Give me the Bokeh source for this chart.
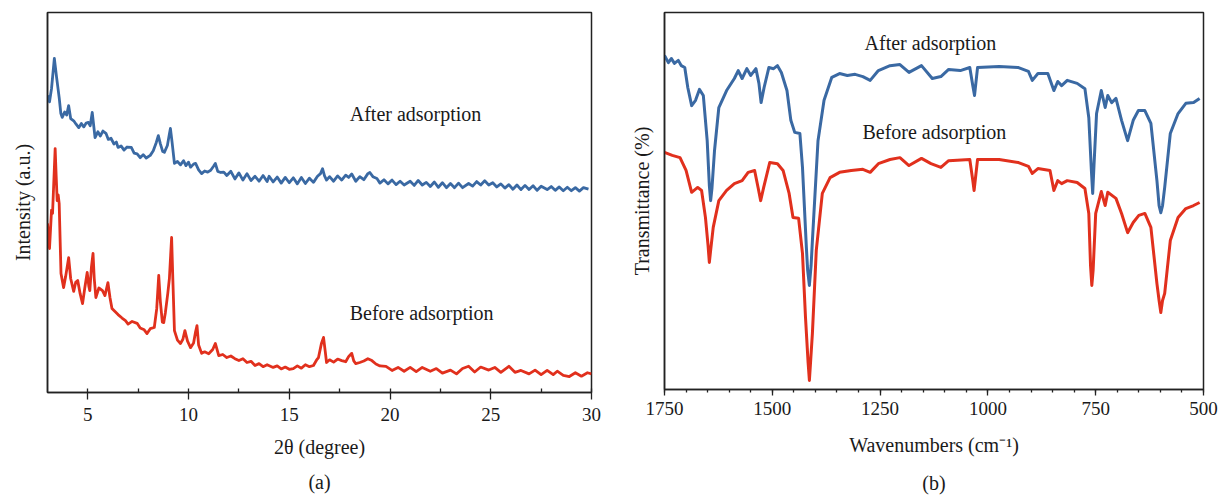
from bokeh.plotting import figure
from bokeh.layouts import row
from bokeh.models import Range1d, SingleIntervalTicker, FixedTicker, Label, Title
from bokeh.embed import file_html
from bokeh.resources import INLINE

FONT = "Liberation Serif"
BLUE = "#3a69a3"
RED = "#e1301d"
INK = "#1a1a1a"

# ---------------- (a) XRD data ----------------
xrd_after_2theta = [3.0, 3.1, 3.2, 3.34, 3.45, 3.58, 3.66, 3.73, 3.85, 3.95, 4.05, 4.15, 4.3, 4.42, 4.55, 4.68, 4.8, 4.92,
    5.03, 5.12, 5.22, 5.36, 5.5, 5.62, 5.75, 5.9, 6.02, 6.15, 6.3, 6.42, 6.5, 6.65, 6.8, 6.95, 7.16, 7.3, 7.45, 7.6, 7.75,
    7.9, 8.1, 8.25, 8.4, 8.5, 8.6, 8.72, 8.8, 8.95, 9.05, 9.1, 9.18, 9.3, 9.45, 9.6, 9.75, 9.87, 10.0, 10.1, 10.25, 10.35,
    10.5, 10.65, 10.8, 10.95, 11.1, 11.25, 11.33, 11.45, 11.6, 11.75, 11.9, 12.1, 12.3, 12.5, 12.7, 12.9, 13.1, 13.3, 13.5,
    13.7, 13.9, 14.0, 14.2, 14.4, 14.6, 14.8, 15.0, 15.2, 15.4, 15.6, 15.8, 16.0, 16.2, 16.4, 16.55, 16.65, 16.75, 16.85,
    17.0, 17.2, 17.4, 17.6, 17.8, 17.95, 18.1, 18.3, 18.5, 18.7, 18.9, 19.0, 19.15, 19.35, 19.5, 19.7, 19.9, 20.1, 20.3,
    20.5, 20.7, 21.0, 21.2, 21.4, 21.6, 21.8, 22.0, 22.2, 22.4, 22.6, 22.8, 23.0, 23.2, 23.4, 23.6, 23.9, 24.1, 24.3, 24.5,
    24.7, 24.9, 25.1, 25.3, 25.5, 25.7, 25.9, 26.1, 26.3, 26.5, 26.7, 26.9, 27.1, 27.3, 27.5, 27.8, 28.0, 28.2, 28.4, 28.6,
    28.8, 29.0, 29.2, 29.4, 29.6, 29.85]
xrd_after_int = [78.2, 76.5, 80.0, 87.9, 83.0, 77.6, 73.5, 72.4, 73.8, 73.0, 75.5, 72.1, 71.5, 70.6, 69.7, 70.8, 69.9, 70.9,
    71.1, 70.2, 73.7, 67.1, 68.6, 67.5, 68.8, 68.2, 66.6, 66.9, 65.4, 65.9, 64.5, 64.9, 63.8, 64.6, 64.5, 63.0, 62.8, 61.8, 62.6,
    61.7, 62.4, 63.6, 65.8, 67.6, 65.5, 63.4, 63.2, 65.0, 68.0, 69.5, 66.0, 60.3, 60.8, 59.9, 61.0, 59.7, 60.6, 59.3, 60.1, 60.3,
    58.6, 57.6, 58.3, 58.0, 58.5, 59.6, 60.3, 58.2, 57.9, 58.0, 57.1, 58.2, 56.2, 57.8, 55.9, 57.6, 55.8, 56.9, 55.6,
    57.1, 55.5, 56.9, 55.4, 56.7, 55.1, 56.6, 55.2, 56.5, 54.9, 56.6, 55.0, 56.4, 55.3, 56.9, 57.6, 58.9, 57.0, 55.9,
    56.8, 55.6, 57.0, 55.9, 57.2, 56.6, 57.5, 55.6, 56.8, 56.0, 57.6, 57.9, 56.8, 56.3, 55.1, 56.0, 54.9, 55.9, 54.7,
    55.6, 54.6, 55.6, 54.5, 55.8, 54.6, 55.3, 54.2, 55.4, 54.0, 55.2, 53.9, 55.0, 53.9, 55.1, 53.9, 55.0, 54.3, 55.5, 54.6,
    55.7, 54.6, 55.2, 54.1, 54.9, 53.8, 54.7, 53.5, 54.6, 53.4, 54.5, 53.4, 54.4, 53.2, 54.3, 53.4, 54.2, 53.2, 54.1, 53.1,
    54.0, 53.1, 53.9, 53.0, 53.9, 53.5]

xrd_before_2theta = [3.0, 3.1, 3.2, 3.25, 3.38, 3.43, 3.48, 3.53, 3.58, 3.67, 3.8, 3.9, 4.05, 4.15, 4.3, 4.4, 4.5, 4.62,
    4.74, 4.85, 4.97, 5.05, 5.1, 5.18, 5.26, 5.32, 5.4, 5.55, 5.73, 5.85, 6.0, 6.1, 6.2, 6.35, 6.5, 6.7, 6.87, 7.0, 7.2,
    7.45, 7.6, 7.8, 7.94, 8.1, 8.3, 8.42, 8.52, 8.6, 8.7, 8.77, 8.85, 8.97, 9.05, 9.16, 9.22, 9.3, 9.45, 9.6, 9.72, 9.82,
    9.95, 10.1, 10.25, 10.35, 10.42, 10.5, 10.65, 10.8, 11.0, 11.2, 11.33, 11.5, 11.7, 11.9, 12.1, 12.3, 12.5, 12.7, 12.9,
    13.1, 13.3, 13.5, 13.7, 13.9, 14.2, 14.4, 14.6, 14.8, 15.0, 15.2, 15.4, 15.6, 15.8, 16.0, 16.2, 16.35, 16.45, 16.6,
    16.7, 16.78, 16.85, 17.0, 17.2, 17.4, 17.6, 17.8, 17.95, 18.1, 18.2, 18.3, 18.5, 18.7, 18.9, 19.1, 19.3, 19.5, 19.8,
    20.1, 20.4, 20.7, 21.0, 21.3, 21.6, 22.0, 22.3, 22.6, 23.0, 23.3, 23.6, 23.9, 24.2, 24.5, 24.9, 25.2, 25.5, 25.9,
    26.2, 26.5, 26.9, 27.2, 27.5, 27.8, 28.1, 28.3, 28.6, 28.9, 29.2, 29.5, 29.8, 30.0]
xrd_before_int = [44.5, 37.9, 48.0, 47.1, 64.2, 57.0, 50.5, 52.0, 49.7, 31.3, 27.6, 30.5, 35.5, 30.0, 26.6, 29.0, 29.5, 26.0,
    23.4, 27.5, 31.6, 28.0, 26.8, 33.0, 36.6, 30.0, 25.0, 27.5, 26.8, 25.5, 28.9, 25.0, 22.1, 21.3, 20.5, 19.6, 18.9, 18.0, 18.7,
    18.2, 17.0, 16.5, 15.5, 16.8, 17.1, 22.0, 30.8, 24.0, 18.5, 18.4, 21.0, 26.1, 30.0, 40.8, 30.0, 16.3, 13.8, 12.9, 14.0, 16.3,
    13.5, 11.8, 13.0, 16.0, 17.6, 12.5, 10.3, 10.7, 10.2, 11.3, 12.9, 9.7, 10.0, 9.2, 9.6, 8.9, 8.4, 8.9, 7.9,
    8.2, 7.1, 7.6, 6.8, 7.3, 6.6, 7.0, 6.2, 6.7, 6.1, 6.3, 7.0, 6.4, 7.3, 6.8, 7.1, 8.5, 9.2, 13.0,
    14.5, 11.0, 7.9, 8.6, 8.0, 8.8, 8.4, 8.1, 9.5, 10.3, 8.3, 7.6, 7.9, 8.3, 8.9, 8.4, 7.5, 7.0, 6.9,
    5.8, 6.6, 5.6, 6.6, 5.5, 6.6, 5.6, 6.3, 5.1, 5.9, 4.9, 6.3, 6.9, 5.4, 6.7, 5.9, 6.6, 5.3, 6.9,
    5.3, 5.8, 4.9, 5.9, 4.7, 5.8, 4.7, 5.6, 4.5, 4.2, 5.2, 4.3, 5.2, 4.9]

# ---------------- (b) FTIR data ----------------
ftir_after_wn = [1750, 1741, 1734, 1727, 1718, 1711, 1703, 1696, 1687, 1678, 1669, 1660, 1651, 1646, 1643, 1640, 1634,
    1624, 1606, 1588, 1579, 1570, 1559, 1550, 1538, 1531, 1526, 1519, 1508, 1497, 1488, 1479, 1466, 1457, 1448, 1436,
    1430, 1421, 1418, 1414, 1410, 1407, 1394, 1380, 1362, 1344, 1326, 1308, 1290, 1273, 1254, 1227, 1204, 1183, 1154,
    1129, 1109, 1091, 1064, 1042, 1035, 1031, 1024, 974, 929, 906, 897, 884, 861, 847, 838, 829, 816, 793, 775, 766,
    760, 757, 754, 748, 737, 728, 722, 713, 703, 690, 676, 663, 651, 636, 622, 608, 603, 599, 595, 590, 577, 559, 541,
    523, 509]
ftir_after_t = [88.6, 86.7, 87.8, 86.5, 87.3, 85.9, 85.4, 80.1, 75.3, 76.7, 79.6, 78.0, 66.0, 54.1, 50.1, 53.3, 63.4,
    74.8, 79.3, 82.5, 84.6, 82.5, 85.1, 83.3, 85.1, 81.2, 76.1, 80.1, 85.4, 85.1, 85.9, 84.1, 79.3, 71.4, 68.2, 67.9,
    58.9, 37.7, 31.6, 27.6, 32.9, 39.5, 66.0, 76.7, 82.8, 83.8, 83.3, 83.6, 83.0, 82.0, 84.6, 85.9, 86.2, 84.1, 85.9,
    82.5, 83.0, 84.9, 84.6, 85.4, 80.6, 78.0, 85.4, 85.7, 85.4, 84.4, 82.0, 83.8, 83.8, 79.3, 81.7, 80.6, 82.0, 81.2, 79.8, 72.1,
    58.1, 52.0, 59.4, 73.2, 79.3, 74.8, 78.0, 76.1, 77.2, 71.4, 66.0, 71.4, 74.0, 74.0, 70.6, 55.4, 48.8, 46.9, 48.8, 53.6,
    67.9, 73.2, 75.9, 76.1, 77.2]

ftir_before_wn = [1750, 1732, 1714, 1700, 1687, 1673, 1664, 1655, 1649, 1646, 1643, 1637, 1624, 1606, 1588, 1570, 1556,
    1541, 1533, 1527, 1520, 1506, 1488, 1475, 1461, 1452, 1439, 1430, 1423, 1417, 1414, 1411, 1407, 1398, 1384, 1366,
    1344, 1317, 1290, 1273, 1254, 1227, 1204, 1183, 1154, 1132, 1109, 1091, 1042, 1035, 1032, 1024, 974, 929, 906, 897,
    884, 856, 847, 838, 829, 816, 793, 775, 766, 762, 759, 756, 750, 737, 728, 722, 703, 690, 676, 663, 650, 636, 622,
    608, 603, 599, 595, 590, 577, 559, 541, 523, 509]
ftir_before_t = [62.9, 62.1, 61.5, 58.1, 52.3, 53.6, 52.8, 45.6, 38.2, 33.7, 36.9, 43.0, 50.1, 52.8, 54.6, 55.4, 57.6,
    58.1, 53.6, 50.1, 53.6, 60.2, 59.9, 58.1, 52.0, 45.6, 45.4, 36.1, 19.1, 7.2, 2.4, 7.7, 14.9, 36.9, 52.0, 56.2,
    57.6, 58.1, 58.4, 57.6, 59.9, 61.0, 61.5, 59.4, 61.3, 59.9, 58.9, 60.7, 61.0, 55.4, 52.8, 61.0, 61.0, 60.2, 59.2, 57.3,
    58.6, 58.1, 52.8, 55.4, 54.6, 55.4, 54.9, 53.3, 46.7, 32.9, 27.6, 31.6, 46.7, 52.5, 48.8, 52.3, 50.7, 46.7, 41.6, 44.3,
    46.2, 46.7, 43.0, 28.1, 23.6, 20.4, 23.6, 25.5, 39.5, 45.6, 48.0, 48.8, 49.6]


def style_axis(ax):
    ax.axis_line_color = "#222222"
    ax.axis_line_width = 1.5
    ax.major_tick_line_color = "#222222"
    ax.minor_tick_line_color = "#222222"
    ax.major_tick_line_width = 1.3
    ax.minor_tick_line_width = 1.3
    ax.major_label_text_font = FONT
    ax.major_label_text_font_size = "19px"
    ax.major_label_text_font_style = "normal"
    ax.major_label_text_color = INK
    ax.axis_label_text_font = FONT
    ax.axis_label_text_font_size = "20px"
    ax.axis_label_text_font_style = "normal"
    ax.axis_label_text_color = INK


def style(p, xlabel, ylabel, ylabel_standoff):
    p.grid.visible = False
    p.outline_line_color = "#222222"
    p.outline_line_width = 1.5
    xa = p.xaxis[0]
    ya = p.yaxis[0]
    style_axis(xa)
    style_axis(ya)
    xa.axis_label = xlabel
    ya.axis_label = ylabel
    ya.ticker = FixedTicker(ticks=[])
    ya.major_tick_out = 0
    ya.major_tick_in = 0
    ya.minor_tick_out = 0
    ya.minor_tick_in = 0
    ya.axis_label_standoff = ylabel_standoff
    return xa


def note(p, x, y, text):
    p.add_layout(Label(x=x, y=y, text=text, text_font=FONT, text_font_size="20px",
                       text_align="left", text_baseline="middle", text_color=INK))


# ---------- panel (a) ----------
p1 = figure(width=610, height=495, frame_width=544, frame_height=380,
            min_border_left=47, min_border_right=19, min_border_top=12, min_border_bottom=103,
            x_range=Range1d(3, 30), y_range=Range1d(0, 100),
            tools="", toolbar_location=None, output_backend="svg")
xa1 = style(p1, "2θ (degree)", "Intensity (a.u.)", 14)
xa1.ticker = SingleIntervalTicker(interval=5, num_minor_ticks=2)
xa1.major_tick_out = 7
xa1.major_tick_in = 0
xa1.minor_tick_out = 0
xa1.minor_tick_in = 4
xa1.major_label_standoff = 8
xa1.axis_label_standoff = 12
p1.line(xrd_after_2theta, xrd_after_int, line_color=BLUE, line_width=2.8, line_join="round")
p1.line(xrd_before_2theta, xrd_before_int, line_color=RED, line_width=2.8, line_join="round")
note(p1, 18.0, 73.4, "After adsorption")
note(p1, 18.0, 21.0, "Before adsorption")
p1.add_layout(Title(text="(a)", align="center", text_font=FONT, text_font_size="20px", standoff=16,
                    text_font_style="normal", text_color=INK), "below")

# ---------- panel (b) ----------
p2 = figure(width=610, height=495, frame_width=539, frame_height=377,
            min_border_left=54, min_border_right=17, min_border_top=12, min_border_bottom=106,
            x_range=Range1d(1750, 500), y_range=Range1d(0, 100),
            tools="", toolbar_location=None, output_backend="svg")
xa2 = style(p2, "Wavenumbers (cm⁻¹)", "Transmittance (%)", 12)
xa2.ticker = SingleIntervalTicker(interval=250, num_minor_ticks=5)
xa2.major_tick_out = 6
xa2.major_tick_in = 0
xa2.minor_tick_out = 3
xa2.minor_tick_in = 0
xa2.major_label_standoff = 6
xa2.axis_label_standoff = 16
p2.line(ftir_after_wn, ftir_after_t, line_color=BLUE, line_width=3, line_join="round")
p2.line(ftir_before_wn, ftir_before_t, line_color=RED, line_width=3, line_join="round")
note(p2, 1286, 91.8, "After adsorption")
note(p2, 1291, 68.2, "Before adsorption")
p2.add_layout(Title(text="(b)", align="center", text_font=FONT, text_font_size="20px", standoff=22,
                    text_font_style="normal", text_color=INK), "below")

layout = row(p1, p2)
open("out.html", "w").write(file_html(layout, INLINE))
